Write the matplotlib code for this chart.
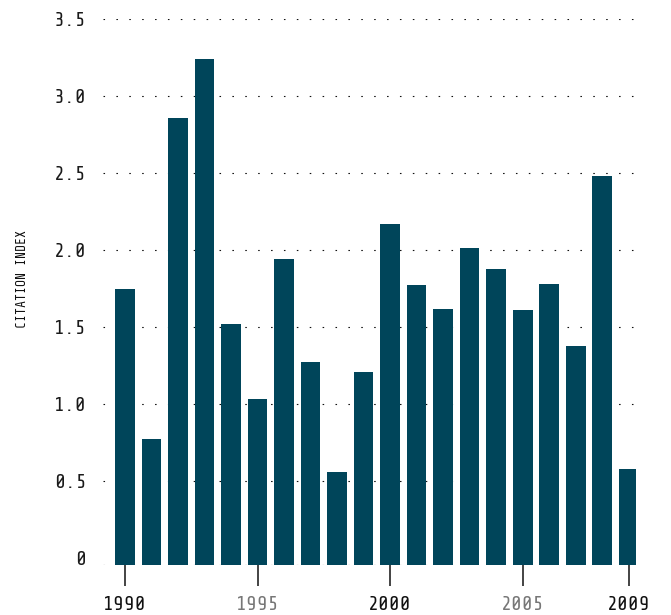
import matplotlib
matplotlib.use("Agg")
import matplotlib.pyplot as plt

years = list(range(1990, 2010))
values = [1.75, 0.77, 2.86, 3.24, 1.52, 1.03, 1.94, 1.27, 0.56, 1.21,
          2.17, 1.77, 1.62, 2.01, 1.88, 1.61, 1.78, 1.38, 2.48, 0.58]
xticks = [1990, 1995, 2000, 2005, 2009]
xtick_colors = ["#111111", "#777777", "#111111", "#777777", "#111111"]
yticks = [0, 0.5, 1.0, 1.5, 2.0, 2.5, 3.0, 3.5]
ytick_labels = ["0", "0.5", "1.0", "1.5", "2.0", "2.5", "3.0", "3.5"]
ylabel = "CITATION INDEX"

bar_color = "#00455A"
ymin, ymax = -0.045, 3.5

fig = plt.figure(figsize=(6.71, 6.15), dpi=100)
ax = fig.add_axes([103/671, 1 - 565/615, 533/671, (565 - 19)/615])

ax.bar(years, [v - ymin for v in values], bottom=ymin, width=0.75,
       color=bar_color, zorder=3)

ax.set_xlim(1989.17, 2009.28)
ax.set_ylim(ymin, ymax)

dot = (0, (1.4, 10.2))
for t in yticks:
    if t > 0:
        ax.axhline(t, color="#111111", lw=0.8, ls=dot, zorder=1)
ax.axhline(ymin, color="#111111", lw=0.8, ls=dot, zorder=1)

for s in ax.spines.values():
    s.set_visible(False)

tickfont = ["Share Tech Mono", "DejaVu Sans Mono"]
ax.set_yticks(yticks)
ax.set_yticklabels(ytick_labels, fontfamily=tickfont, fontsize=14.5, color="#1a1a1a")
ax.tick_params(axis="y", length=0, pad=12)

ax.set_xticks(xticks)
ax.set_xticklabels([str(x) for x in xticks], fontfamily=tickfont, fontsize=14.5)
for lbl, c in zip(ax.get_xticklabels(), xtick_colors):
    lbl.set_color(c)
ax.tick_params(axis="x", length=15, width=1.1, color="#111111", pad=7.5, direction="out")

fig.text(22/671, 1 - 279/615, ylabel, rotation=90, ha="center", va="center",
         fontfamily=tickfont, fontsize=9.4, color="#111111", fontweight="bold")

fig.savefig("out.png", dpi=100)
